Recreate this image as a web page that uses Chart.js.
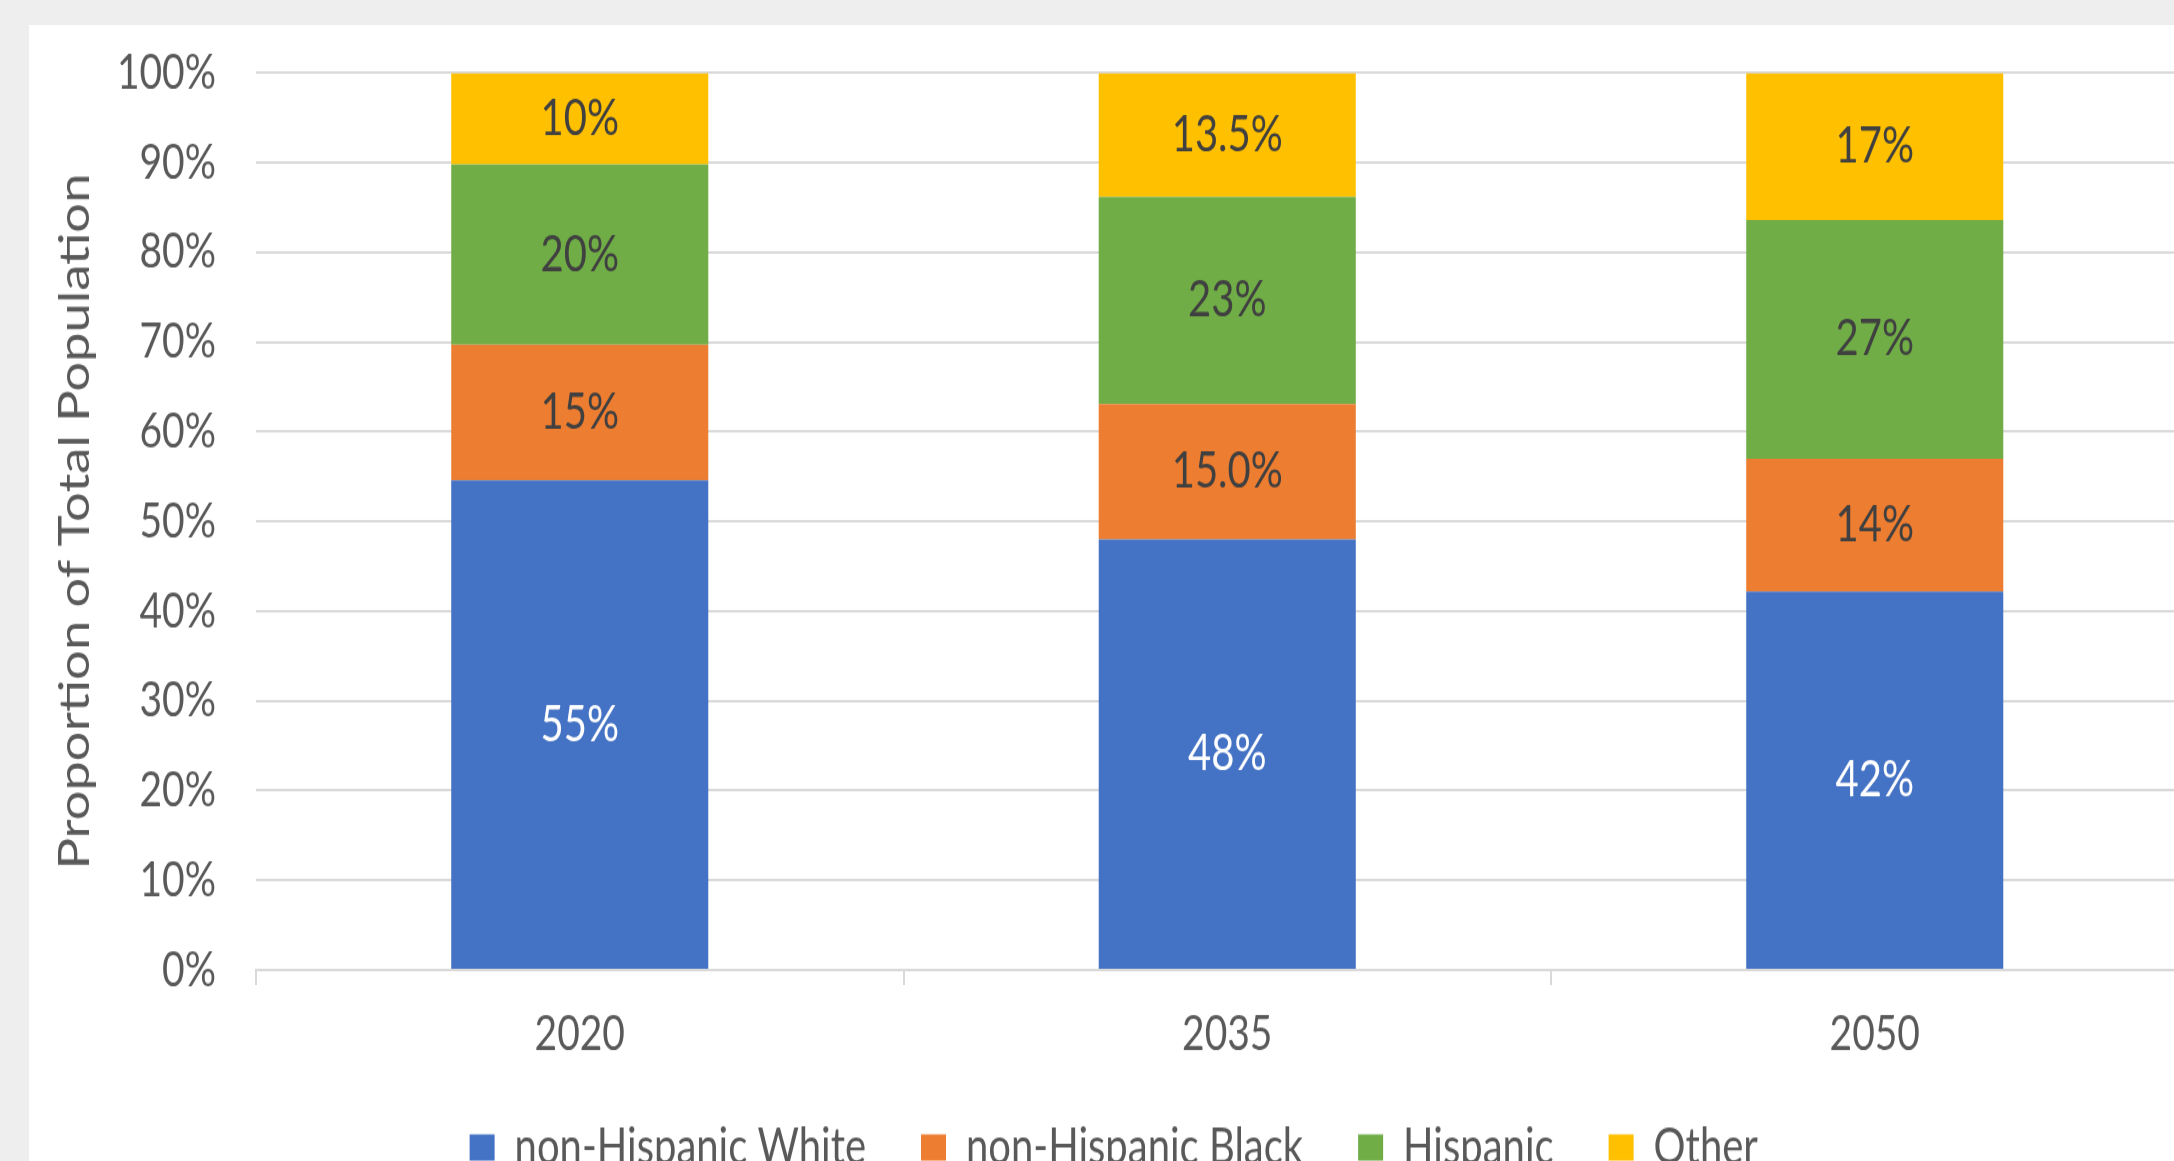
<!DOCTYPE html>
<html>
<head>
<meta charset="utf-8">
<title>Proportion of Total Population</title>
<script src="https://cdn.jsdelivr.net/npm/chart.js@4.4.1/dist/chart.umd.min.js"></script>
<style>
    html, body { margin: 0; padding: 0; background: #eeeeee; overflow: hidden; width: 2174px; height: 1161px; }
    #panel { position: absolute; left: 29px; top: 25px; width: 2180px; height: 1161px; background: #ffffff; overflow: hidden; }
    /* a imagem original está esticada na vertical */
    #chart { transform: scaleY(1.25); transform-origin: 0 0; }
</style>
</head>
<body>
<div id="panel">
    <canvas id="chart" width="2180" height="930"></canvas>
</div>
<script>
// Dados
const years = ['2020', '2035', '2050'];
const whiteShare = [54.6, 48.0, 42.2];
const blackShare = [15.1, 15.1, 14.8];
const hispanicShare = [20.1, 23.1, 26.6];
const otherShare = [10.2, 13.8, 16.4];

// Rótulos exibidos dentro das barras
const whiteLabels = ['55%', '48%', '42%'];
const blackLabels = ['15%', '15.0%', '14%'];
const hispanicLabels = ['20%', '23%', '27%'];
const otherLabels = ['10%', '13.5%', '17%'];

const seriesNames = ['non-Hispanic White', 'non-Hispanic Black', 'Hispanic', 'Other'];
const seriesColors = ['#4472c4', '#ed7d31', '#70ad47', '#ffc000'];

document.addEventListener('DOMContentLoaded', function() {
    const fontFamily = 'Lato, "Noto Sans", sans-serif';
    const fontSize = 39;
    const axisColor = '#595959';
    const gridColor = '#d9d9d9';

    // Plugin simples para os rótulos de dados no meio de cada segmento
    const barLabels = {
        id: 'barLabels',
        afterDatasetsDraw(chart) {
            const ctx = chart.ctx;
            const allLabels = [whiteLabels, blackLabels, hispanicLabels, otherLabels];
            ctx.save();
            ctx.font = `${fontSize + 1}px ${fontFamily}`;
            ctx.textAlign = 'center';
            ctx.textBaseline = 'middle';
            chart.data.datasets.forEach((ds, i) => {
                const meta = chart.getDatasetMeta(i);
                ctx.fillStyle = i === 0 ? '#ffffff' : '#404040';
                meta.data.forEach((bar, j) => {
                    const p = bar.getProps(['x', 'y', 'base'], true);
                    ctx.fillText(allLabels[i][j], p.x, (p.y + p.base) / 2);
                });
            });
            ctx.restore();
        }
    };

    function draw() {
        const ctx = document.getElementById('chart').getContext('2d');
        const shares = [whiteShare, blackShare, hispanicShare, otherShare];

        new Chart(ctx, {
            type: 'bar',
            data: {
                labels: years,
                datasets: shares.map((values, i) => ({
                    label: seriesNames[i],
                    data: values,
                    backgroundColor: seriesColors[i],
                    borderWidth: 0,
                    barPercentage: 0.397,
                    categoryPercentage: 1
                }))
            },
            options: {
                responsive: false,
                animation: false,
                devicePixelRatio: 1,
                layout: {
                    padding: { top: 38.4, left: 0, right: 10.5, bottom: 2 }
                },
                scales: {
                    x: {
                        stacked: true,
                        grid: {
                            display: true,
                            drawOnChartArea: false,
                            drawTicks: true,
                            tickLength: 12,
                            color: gridColor,
                            lineWidth: 2
                        },
                        border: { display: true, color: gridColor, width: 2 },
                        ticks: {
                            color: axisColor,
                            font: { family: fontFamily, size: fontSize },
                            padding: 16
                        },
                        afterFit: function(scale) {
                            scale.height = 67;
                            scale.paddingLeft = 0;
                            scale.paddingRight = 0;
                        }
                    },
                    y: {
                        stacked: true,
                        min: 0,
                        max: 100,
                        grid: { color: gridColor, lineWidth: 2, drawTicks: false },
                        border: { display: false },
                        ticks: {
                            stepSize: 10,
                            color: axisColor,
                            font: { family: fontFamily, size: fontSize },
                            padding: 40,
                            callback: function(value) { return value + '%'; }
                        },
                        title: {
                            display: true,
                            text: 'Proportion of Total Population',
                            color: axisColor,
                            font: { family: fontFamily, size: 42 },
                            padding: { top: 21, bottom: 0 }
                        },
                        afterFit: function(scale) {
                            scale.width = 227;
                            scale.paddingTop = 0;
                            scale.paddingBottom = 0;
                        }
                    }
                },
                plugins: {
                    legend: {
                        position: 'bottom',
                        labels: {
                            color: axisColor,
                            font: { family: fontFamily, size: 40 },
                            boxWidth: 25,
                            boxHeight: 21,
                            padding: 55
                        }
                    },
                    tooltip: { enabled: false }
                }
            },
            plugins: [barLabels]
        });
    }

    // Garantir que a fonte esteja pronta antes de desenhar
    if (document.fonts && document.fonts.load) {
        document.fonts.load(`${fontSize}px Lato`).then(draw, draw);
    } else {
        draw();
    }
});
</script>
</body>
</html>
